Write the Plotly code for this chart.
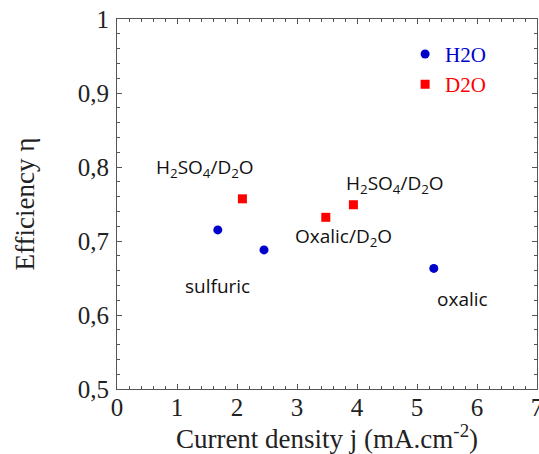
import plotly.graph_objects as go

h2o_x = [1.68, 2.45, 5.28]
h2o_y = [0.715, 0.688, 0.663]
d2o_x = [2.09, 3.48, 3.94]
d2o_y = [0.757, 0.732, 0.749]

ann_text = ["H<sub>2</sub>SO<sub>4</sub>/D<sub>2</sub>O", "H<sub>2</sub>SO<sub>4</sub>/D<sub>2</sub>O",
            "Oxalic/D<sub>2</sub>O", "sulfuric", "oxalic"]
ann_x = [1.47, 4.63, 3.77, 1.67, 5.75]
ann_y = [0.798, 0.777, 0.705, 0.639, 0.622]

x_ticks = [0, 1, 2, 3, 4, 5, 6, 7]
y_ticks = [0.5, 0.6, 0.7, 0.8, 0.9, 1.0]
y_labels = ["0,5", "0,6", "0,7", "0,8", "0,9", "1"]

fig = go.Figure()
fig.add_trace(go.Scatter(x=h2o_x, y=h2o_y, mode="markers",
                         name="<span style='color:#0000CC'>H2O</span>",
                         marker=dict(symbol="circle", size=9, color="#0000CC")))
fig.add_trace(go.Scatter(x=d2o_x, y=d2o_y, mode="markers",
                         name="<span style='color:#FF0000'>D2O</span>",
                         marker=dict(symbol="square", size=9, color="#FF0000")))

for t, x, y in zip(ann_text, ann_x, ann_y):
    fig.add_annotation(x=x, y=y, text=t, showarrow=False,
                       font=dict(family="Open Sans", size=19, color="#111"))

axis_common = dict(showline=True, linecolor="#555", linewidth=1, mirror="allticks",
                   ticks="inside", ticklen=5, tickcolor="#555", showgrid=False, zeroline=False,
                   automargin=False, ticklabeloverflow="allow",
                   tickfont=dict(family="Liberation Serif", size=25, color="#222"))

fig.update_xaxes(range=[0, 7], tickvals=x_ticks, ticktext=[str(v) for v in x_ticks],
                 minor=dict(dtick=0.2, ticks="inside", ticklen=3, tickcolor="#555"),
                 ticklabelstandoff=-4,
                 title=dict(text="Current density j (mA.cm<sup>-2</sup>)",
                            font=dict(family="Liberation Serif", size=27, color="#222"), standoff=4),
                 **axis_common)
fig.update_yaxes(range=[0.5, 1.0], tickvals=y_ticks, ticktext=y_labels,
                 minor=dict(dtick=0.02, ticks="inside", ticklen=3, tickcolor="#555"),
                 ticklabelstandoff=2,
                 title=dict(text="Efficiency η",
                            font=dict(family="Liberation Serif", size=27, color="#222"), standoff=35),
                 **axis_common)

fig.update_layout(
    width=539, height=454,
    margin=dict(l=117, r=2, t=19, b=65),
    plot_bgcolor="white", paper_bgcolor="white",
    showlegend=True,
    legend=dict(x=0.686, y=0.96, xanchor="left", yanchor="top", bgcolor="rgba(0,0,0,0)",
                font=dict(family="Liberation Serif", size=21), itemwidth=30, tracegroupgap=0),
)
fig.write_html("out.html", config={"displayModeBar": False},
               post_script="document.body.style.margin='0';document.body.style.overflow='hidden';")
